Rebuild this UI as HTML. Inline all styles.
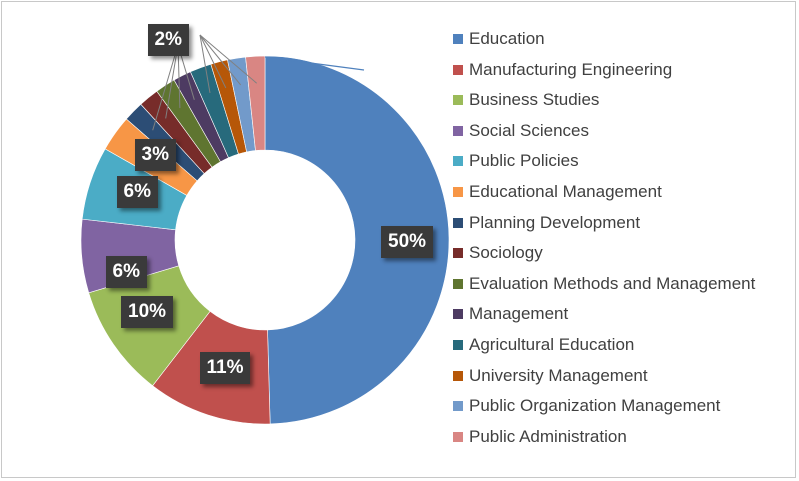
<!DOCTYPE html>
<html><head><meta charset="utf-8"><style>
body{margin:0;background:#fff;}
#wrap{position:relative;width:799px;height:481px;overflow:hidden;background:#fff;}
#frame{position:absolute;left:1px;top:1px;width:795px;height:477px;border:1px solid #c8c8c8;box-sizing:border-box;}
.lbl{position:absolute;background:#3a3a3a;color:#fff;font:bold 19px "Liberation Sans",sans-serif;padding:5px 7px;box-shadow:3px 3px 4px rgba(0,0,0,0.45);line-height:22px;}
.leg{position:absolute;left:453px;font:17px "Liberation Sans",sans-serif;color:#404040;white-space:nowrap;}
.leg span.sw{display:inline-block;width:10px;height:10px;margin-right:6px;vertical-align:0px;}
</style></head><body>
<div id="wrap">
<div id="frame"></div>
<svg id="svg" width="799" height="481" style="position:absolute;left:0;top:0"></svg>
</div>
<script>
const categories=["Education","Manufacturing Engineering","Business Studies","Social Sciences","Public Policies","Educational Management","Planning Development","Sociology","Evaluation Methods and Management","Management","Agricultural Education","University Management","Public Organization Management","Public Administration"];
const values=[50,11,10,6.5,6.5,3.2,1.8,1.8,1.8,1.6,1.9,1.5,1.6,1.7];
const labels=["50%","11%","10%","6%","6%","3%","2%","","","","","","",""];
const colors=["#4f81bd","#c0504d","#9bbb59","#8064a2","#4bacc6","#f79646","#2c4d75","#772c2a","#5f7530","#4d3b62","#276a7c","#b65708","#729aca","#d98683"];
const cx=265,cy=240,R=184,r=90;
const svg=document.getElementById('svg');
const NS='http://www.w3.org/2000/svg';
const total=values.reduce((a,b)=>a+b,0);
function pt(a,rad){return [cx+rad*Math.sin(a),cy-rad*Math.cos(a)];}
let a0=0;
const mids=[];
values.forEach((v,i)=>{
  const a1=a0+v/total*2*Math.PI;
  const [x1,y1]=pt(a0,R),[x2,y2]=pt(a1,R),[x3,y3]=pt(a1,r),[x4,y4]=pt(a0,r);
  const lg=(a1-a0)>Math.PI?1:0;
  const p=document.createElementNS(NS,'path');
  p.setAttribute('d',`M${x1},${y1}A${R},${R} 0 ${lg} 1 ${x2},${y2}L${x3},${y3}A${r},${r} 0 ${lg} 0 ${x4},${y4}Z`);
  p.setAttribute('fill',colors[i]);p.setAttribute('stroke','#fff');p.setAttribute('stroke-width','0.6');
  
  
  svg.appendChild(p);
  mids.push((a0+a1)/2);
  a0=a1;
});
for(let i=6;i<values.length;i++){
  const [x,y]=pt(mids[i],(R+r)/2+20);
  const l=document.createElementNS(NS,'line');
  const sx=i<10?178:200, sy=i<10?45:35;
  l.setAttribute('x1',sx);l.setAttribute('y1',sy);l.setAttribute('x2',x);l.setAttribute('y2',y);
  l.setAttribute('stroke','#808080');l.setAttribute('stroke-width','1');
  
  
  svg.appendChild(l);
}
const bl=document.createElementNS(NS,'line');
bl.setAttribute('x1',265);bl.setAttribute('y1',57);bl.setAttribute('x2',364);bl.setAttribute('y2',70);
bl.setAttribute('stroke','#4f81bd');bl.setAttribute('stroke-width','1.2');


svg.appendChild(bl);
const wrap=document.getElementById('wrap');
const lpos=[[407,242],[225,368],[147,312],[126,272],[137,192],[155,155],[168,40]];
labels.forEach((t,i)=>{
  if(!t)return;
  const d=document.createElement('div');
  d.className='lbl';d.textContent=t;
  
  
  document.body.appendChild(d);
  const w=d.offsetWidth,h=d.offsetHeight;
  d.style.left=(lpos[i][0]-w/2)+'px';d.style.top=(lpos[i][1]-h/2)+'px';
  wrap.appendChild(d);
});
categories.forEach((c,i)=>{
  const d=document.createElement('div');
  d.className='leg';d.style.top=(29+i*30.6)+'px';
  d.innerHTML='<span class="sw" style="background:'+colors[i]+'"></span>'+c;
  
  
  wrap.appendChild(d);
});
</script>
</body></html>
